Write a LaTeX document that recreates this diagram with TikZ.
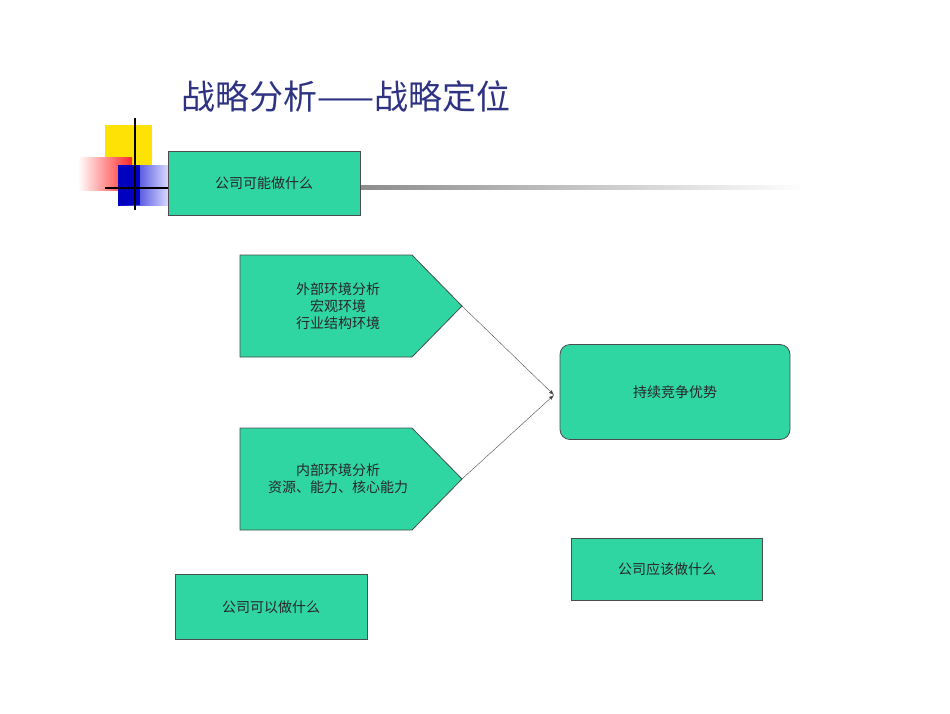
\documentclass[tikz,border=0pt]{standalone}
\usepackage{fontspec}
\newfontfamily\cjk{Noto Sans CJK SC}
\usetikzlibrary{arrows.meta}
\definecolor{bg}{RGB}{48,214,162}
\definecolor{ttl}{RGB}{45,50,130}
\begin{document}
\begin{tikzpicture}[x=1pt,y=-1pt,
  box/.style={draw=black!70,fill=bg,line width=0.8pt},
  txt/.style={font=\cjk\fontsize{14}{17}\selectfont,align=center,text=black!85}]
\useasboundingbox (0,0) rectangle (950,713);
\node[font=\cjk\fontsize{34}{40}\selectfont,text=ttl,anchor=west] (title) at (178,97) {战略分析——战略定位};
% decoration
\fill[yellow!85!orange] (105,125) rectangle (152,170);
\shade[left color=white,right color=red!85] (78,157) rectangle (132,190);
\shade[left color=blue!80!black,right color=blue!15] (118,165) rectangle (168,205);
\fill[blue!75!black] (118,165) rectangle (140,205);
\draw[line width=1.5pt] (135,118) -- (135,210);
\draw[line width=1.5pt] (105,188) -- (170,188);
\shade[left color=black!45,right color=white] (360,185) rectangle (805,189);
\node[box,minimum width=192,minimum height=64,txt] (a) at (264,183) {公司可能做什么};
% pentagons
\draw[box] (240,255) -- (412,255) -- (462,306) -- (412,357) -- (240,357) -- cycle;
\node[txt] (p1) at (338,306) {外部环境分析\\宏观环境\\行业结构环境};
\draw[box] (240,428) -- (412,428) -- (462,479) -- (412,530) -- (240,530) -- cycle;
\node[txt] (p2) at (338,479) {内部环境分析\\资源、能力、核心能力};
\coordinate (t1) at (462,306);
\coordinate (t2) at (462,479);
\node[box,rounded corners=10,minimum width=230,minimum height=95,txt] (c) at (675,392) {持续竞争优势};
\coordinate (tip) at (554,395);
\draw[black!70,-{Latex[length=5pt]}] (t1) -- (tip);
\draw[black!70,-{Latex[length=5pt]}] (t2) -- (tip);
\node[box,minimum width=191,minimum height=62,txt] (d) at (667,569) {公司应该做什么};
\node[box,minimum width=192,minimum height=65,txt] (e) at (271,607) {公司可以做什么};
\end{tikzpicture}
\end{document}
